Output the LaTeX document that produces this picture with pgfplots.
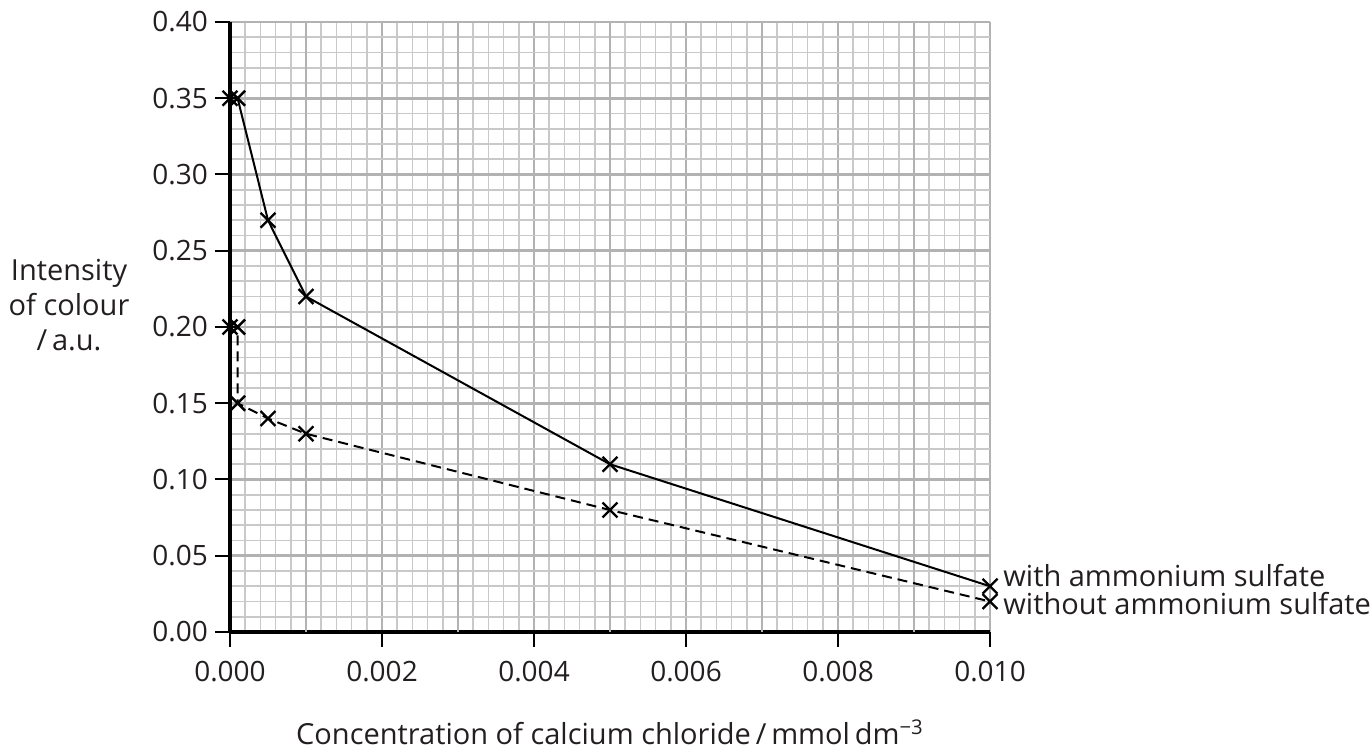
\documentclass[border=0pt]{standalone}
\usepackage{pgfplots}
\pgfplotsset{compat=1.18}
\usepackage{fontspec}
\setmainfont{Open Sans}
\definecolor{txt}{HTML}{231F20}
\begin{document}
\begin{tikzpicture}
\useasboundingbox (0,0) rectangle (685.5pt,374.5pt);
\begin{axis}[
  at={(115pt,58.5pt)}, anchor=south west,
  scale only axis, width=380pt, height=305pt,
  xmin=0, xmax=0.01, ymin=0, ymax=0.40,
  enlargelimits=false, clip=false,
  axis x line*=bottom, axis y line*=left,
  axis line style={-, line width=1.6pt, black},
  xtick={0,0.002,0.004,0.006,0.008,0.010},
  ytick={0,0.05,0.10,0.15,0.20,0.25,0.30,0.35,0.40},
  minor x tick num=9, minor y tick num=4,
  extra x ticks={0.001,0.003,0.005,0.007,0.009},
  extra x tick labels={},
  extra x tick style={grid=major, major tick length=0pt},
  grid=both,
  major grid style={black!30, line width=1.3pt},
  minor grid style={black!21, line width=0.8pt},
  tick align=outside, major tick length=7.5pt, minor tick length=0pt,
  tick style={black, line width=1pt},
  scaled x ticks=false, scaled y ticks=false,
  /pgf/number format/assume math mode=true,
  xticklabel style={yshift=-3.5pt, /pgf/number format/.cd, fixed, fixed zerofill, precision=3},
  yticklabel style={/pgf/number format/.cd, fixed, fixed zerofill, precision=2},
  ticklabel style={font=\fontsize{14}{16}\selectfont, text=txt},
  label style={font=\fontsize{14.5}{17.5}\selectfont, text=txt},
  xlabel={Concentration of calcium chloride\,/\,mmol\,dm\textsuperscript{−3}},
  xlabel style={at={(axis description cs:0.5,0)}, anchor=base, yshift=-56.5pt},
  ylabel={Intensity\\of colour\\/\,a.u.},
  ylabel style={at={(axis description cs:-0.2118,0.536)}, anchor=center, rotate=-90, align=center},
]
\addplot[black, line width=1pt, mark=x, mark size=5.3pt, mark options={solid, line width=1.2pt}]
  coordinates {(0,0.35) (0.0001,0.35) (0.0005,0.27) (0.001,0.22) (0.005,0.11) (0.01,0.03)};
\addplot[black, line width=1pt, dash pattern=on 5pt off 3pt, mark=x, mark size=5.3pt, mark options={solid, line width=1.2pt}]
  coordinates {(0,0.20) (0.0001,0.20) (0.0001,0.15) (0.0005,0.14) (0.001,0.13) (0.005,0.08) (0.01,0.02)};
\node[anchor=base west, xshift=6.5pt, font=\fontsize{14.5}{16}\selectfont, text=txt, inner sep=0pt] at (axis cs:0.01,0.0298) {with ammonium sulfate};
\node[anchor=base west, xshift=6.5pt, font=\fontsize{14.5}{16}\selectfont, text=txt, inner sep=0pt] at (axis cs:0.01,0.0118) {without ammonium sulfate};
\end{axis}
\end{tikzpicture}
\end{document}
